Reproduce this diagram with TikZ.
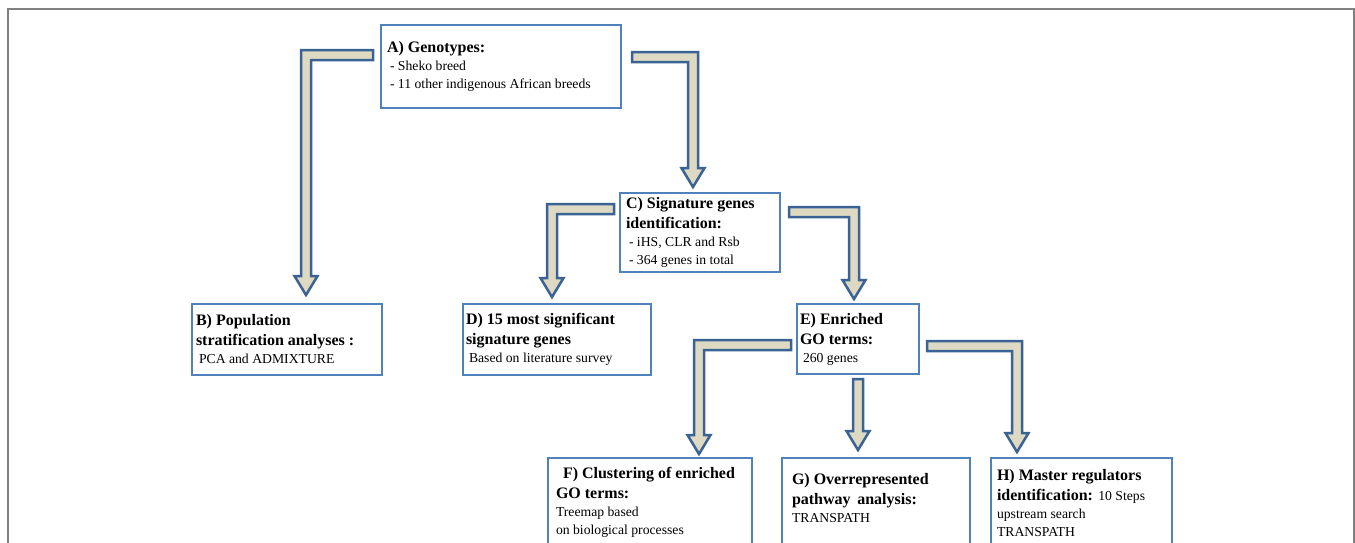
\documentclass[tikz,border=0pt]{standalone}
\usepackage{fontspec}
\setmainfont{Liberation Serif}
\usetikzlibrary{calc}

\definecolor{boxblue}{RGB}{79,129,189}
\definecolor{arrowblue}{RGB}{58,98,148}
\definecolor{arrowfill}{RGB}{221,217,195}
\definecolor{framegray}{RGB}{128,128,128}

% heading and body text
\newcommand\hd{\bfseries\fontsize{16}{20}\selectfont}
\newcommand\tx{\fontsize{13.7}{18}\selectfont}
% fixed-size text block: #1 vertical position (c/t), #2 height, #3 width, #4 text
\newcommand\boxtext[4]{\parbox[c][#2][#1]{#3}{\raggedright #4}}

% block arrow dimensions
\def\aw{5pt}
\def\ahw{11.5pt}
\def\ahl{19pt}

% elbow block arrow: #1 start of shaft, #2 tip, #3 direction of the horizontal run (1 right, -1 left)
\newcommand\elbowarrow[3]{%
  \path[blockarrow] let \p1=(#1), \p2=(#2) in
    ({\x1},{\y1+\aw}) -- ({\x2+(#3)*\aw},{\y1+\aw}) -- ({\x2+(#3)*\aw},{\y2+\ahl})
    -- ({\x2+(#3)*\ahw},{\y2+\ahl}) -- ({\x2},{\y2}) -- ({\x2-(#3)*\ahw},{\y2+\ahl})
    -- ({\x2-(#3)*\aw},{\y2+\ahl}) -- ({\x2-(#3)*\aw},{\y1-\aw}) -- ({\x1},{\y1-\aw}) -- cycle;}

% straight downward block arrow: #1 start, #2 tip
\newcommand\vertarrow[2]{%
  \path[blockarrow] let \p1=(#1), \p2=(#2) in
    ({\x2-\aw},{\y1}) -- ({\x2+\aw},{\y1}) -- ({\x2+\aw},{\y2+\ahl}) -- ({\x2+\ahw},{\y2+\ahl})
    -- ({\x2},{\y2}) -- ({\x2-\ahw},{\y2+\ahl}) -- ({\x2-\aw},{\y2+\ahl}) -- cycle;}

\tikzset{
  box/.style={draw=boxblue, line width=2.8pt, fill=white, inner ysep=0pt,
              outer sep=0pt, anchor=north west},
  blockarrow/.style={draw=arrowblue, fill=arrowfill, line width=2.5pt, line join=miter},
  frameline/.style={draw=framegray, line width=1.5pt}
}

\begin{document}
\begin{tikzpicture}[x=1pt, y=-1pt]
\useasboundingbox (0,0) rectangle (1355,542);
\clip (0,0) rectangle (1355,542);

% outer frame
\path[frameline] (8,560) -- (8,9) -- (1354,9) -- (1354,560);

% boxes
\node[box, inner xsep=6pt] (A) at (381,25) {\boxtext{c}{83pt}{228pt}{%
  {\hd A) Genotypes:\par}%
  {\tx \hspace{3pt}- Sheko breed\\ \hspace{3pt}- 11 other indigenous African breeds\par}}};

\node[box, inner xsep=4pt] (B) at (192,304) {\boxtext{c}{71pt}{182pt}{%
  {\hd B) Population\\ stratification analyses :\par}%
  {\tx \hspace{3pt}PCA and ADMIXTURE\par}}};

\node[box, inner xsep=6pt] (C) at (620,193) {\boxtext{c}{79pt}{148pt}{%
  {\hd C) Signature genes\\ identification:\par}%
  {\tx \hspace{3pt}- iHS, CLR and Rsb\\ \hspace{3pt}- 364 genes in total\par}}};

\node[box, inner xsep=3pt] (D) at (463,304) {\boxtext{c}{71pt}{182pt}{%
  {\hd D) 15 most significant\\ signature genes\par}%
  {\tx \hspace{3pt}Based on literature survey\par}}};

\node[box, inner xsep=3pt] (E) at (797,304) {\boxtext{c}{70pt}{116pt}{%
  {\hd E) Enriched\\ GO terms:\par}%
  {\tx \hspace{3pt}260 genes\par}}};

\node[box, inner xsep=8pt] (F) at (548,458) {\boxtext{t}{110pt}{188pt}{%
  \vspace*{9pt}%
  {\hd \hspace{7pt}F) Clustering of enriched\\ GO terms:\par}%
  {\tx Treemap based\\ on biological processes\par}}};

\node[box, inner xsep=10pt] (G) at (782,458) {\boxtext{t}{110pt}{168pt}{%
  \vspace*{15pt}%
  {\hd G) Overrepresented\\ pathway\, analysis:\par}%
  {\tx TRANSPATH\par}}};

\node[box, inner xsep=6pt] (H) at (991,458) {\boxtext{t}{110pt}{169pt}{%
  \vspace*{11pt}%
  {\hd H) Master regulators\\ identification: {\mdseries\tx 10 Steps}\par}%
  {\tx upstream search\\ TRANSPATH\par}}};

% arrow end points
\coordinate (ab1) at ($(A.north west)+(-8,30)$);
\coordinate (ab2) at ($(B.north west)+(114,-9)$);
\coordinate (ac1) at ($(A.north east)+(11,32)$);
\coordinate (ac2) at ($(C.north west)+(73,-6)$);
\coordinate (cd1) at ($(C.north west)+(-6,16)$);
\coordinate (cd2) at ($(D.north west)+(89,-7)$);
\coordinate (ce1) at ($(C.north east)+(9,19)$);
\coordinate (ce2) at ($(E.north west)+(57,-5)$);
\coordinate (ef1) at ($(E.north west)+(-6,41)$);
\coordinate (ef2) at ($(F.north west)+(151,-4)$);
\coordinate (eg1) at ($(E.south west)+(61,5)$);
\coordinate (eg2) at ($(G.north west)+(76,-8)$);
\coordinate (eh1) at ($(E.north east)+(8,42)$);
\coordinate (eh2) at ($(H.north west)+(26,-6)$);

% block arrows
\elbowarrow{ab1}{ab2}{-1}
\elbowarrow{ac1}{ac2}{1}
\elbowarrow{cd1}{cd2}{-1}
\elbowarrow{ce1}{ce2}{1}
\elbowarrow{ef1}{ef2}{-1}
\vertarrow{eg1}{eg2}
\elbowarrow{eh1}{eh2}{1}
\end{tikzpicture}
\end{document}
